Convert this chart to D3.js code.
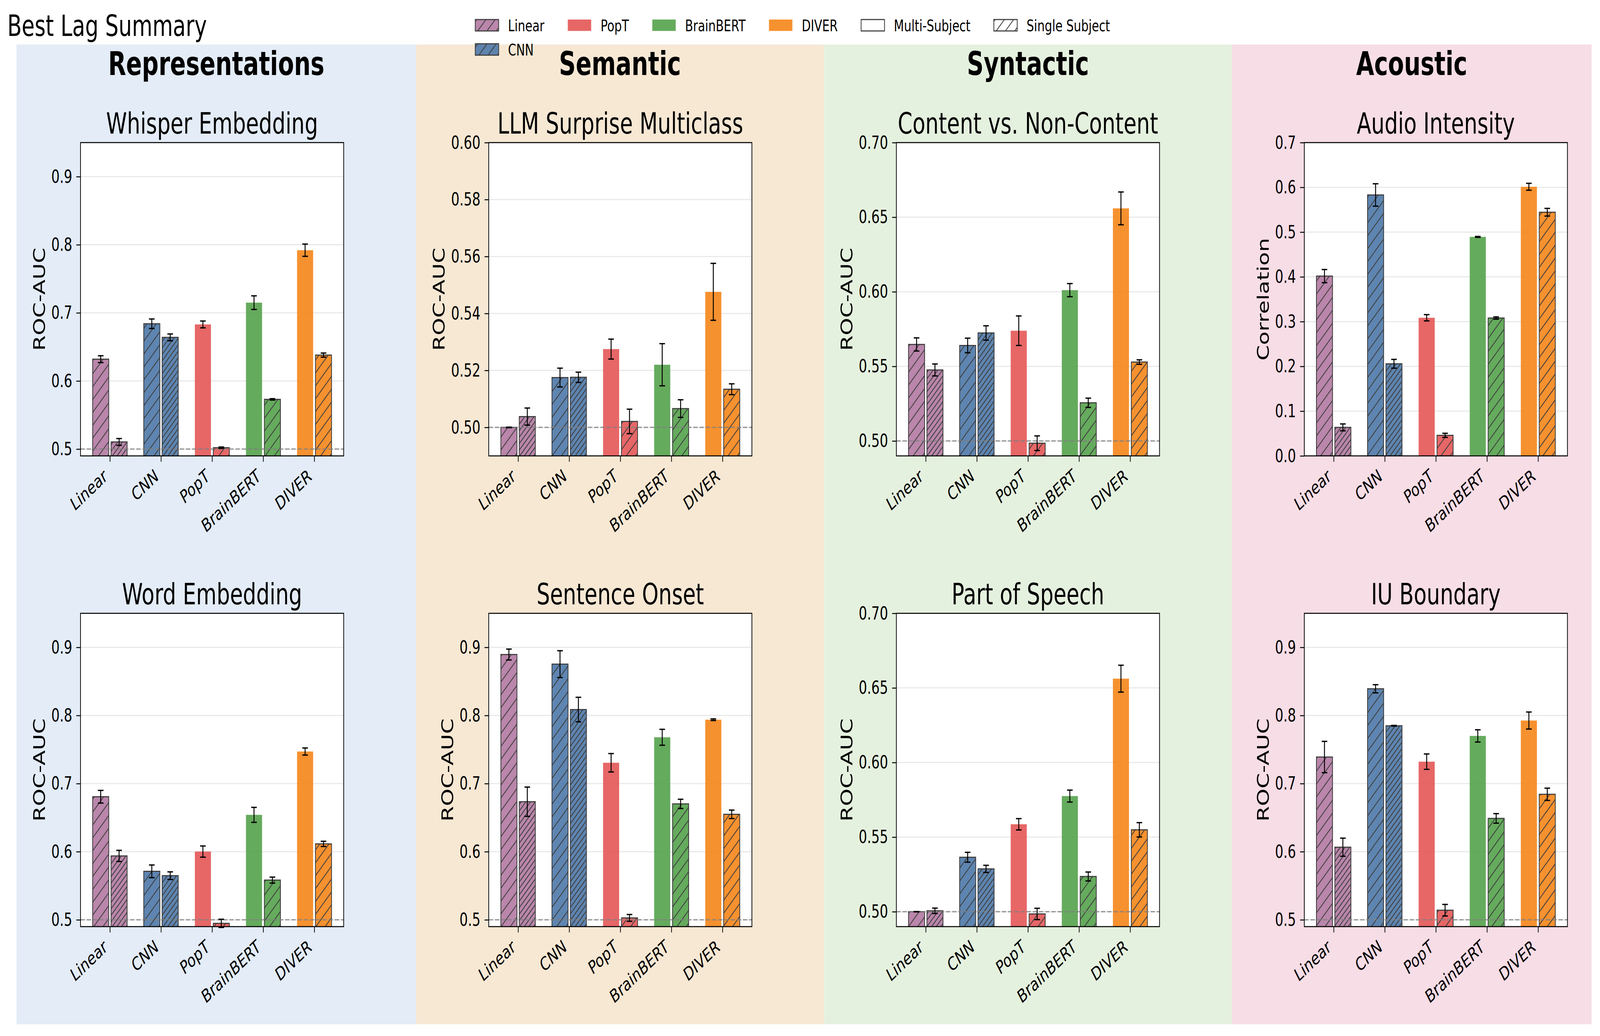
<!DOCTYPE html>
<html>
<head>
<meta charset="utf-8">
<script src="https://cdn.jsdelivr.net/npm/d3@7"></script>
<style>
    html, body { margin: 0; padding: 0; background: #fff; overflow: hidden; width: 100%; height: 100%; }
    #chart svg { display: block; width: 100vw; height: 100vh; }
    text { font-family: "DejaVu Sans", sans-serif; }
</style>
</head>
<body>
<div id="chart"></div>
<script>
// Models on the x axis of every panel
var models = ["Linear", "CNN", "PopT", "BrainBERT", "DIVER"];

// Column headers and panel titles (row-major: top row then bottom row)
var categories = ["Representations", "Semantic", "Syntactic", "Acoustic"];
var panelTitles = ["Whisper Embedding", "LLM Surprise Multiclass", "Content vs. Non-Content", "Audio Intensity",
                   "Word Embedding", "Sentence Onset", "Part of Speech", "IU Boundary"];
var yLabels = ["ROC-AUC", "ROC-AUC", "ROC-AUC", "Correlation",
               "ROC-AUC", "ROC-AUC", "ROC-AUC", "ROC-AUC"];

// Multi-subject means / errors, one row per panel, one value per model
var multiMean = [
    [0.632, 0.684, 0.683, 0.715, 0.792],
    [0.500, 0.5175, 0.5275, 0.522, 0.5476],
    [0.5647, 0.564, 0.5739, 0.6011, 0.6559],
    [0.4017, 0.583, 0.3086, 0.4893, 0.6013],
    [0.6807, 0.5712, 0.6002, 0.6541, 0.7471],
    [0.8895, 0.8754, 0.7306, 0.768, 0.7938],
    [0.500, 0.5365, 0.5586, 0.5775, 0.6562],
    [0.739, 0.8392, 0.7322, 0.770, 0.7926]
];
var multiErr = [
    [0.005, 0.007, 0.005, 0.010, 0.009],
    [0.0001, 0.0033, 0.0035, 0.0074, 0.010],
    [0.0044, 0.0049, 0.0099, 0.0044, 0.011],
    [0.0147, 0.025, 0.007, 0.001, 0.0077],
    [0.0093, 0.0093, 0.0082, 0.011, 0.0052],
    [0.008, 0.0197, 0.0135, 0.0117, 0.0012],
    [0.0001, 0.0033, 0.0038, 0.004, 0.009],
    [0.023, 0.006, 0.0113, 0.009, 0.0125]
];

// Single-subject means / errors
var singleMean = [
    [0.5105, 0.664, 0.502, 0.573, 0.638],
    [0.5038, 0.5176, 0.5021, 0.5066, 0.5134],
    [0.5476, 0.5724, 0.4985, 0.5256, 0.5529],
    [0.0637, 0.2058, 0.0459, 0.308, 0.5444],
    [0.5938, 0.5648, 0.4948, 0.5583, 0.6115],
    [0.6734, 0.8087, 0.5028, 0.6702, 0.6549],
    [0.5006, 0.5287, 0.4985, 0.5236, 0.5549],
    [0.6066, 0.7849, 0.5141, 0.6489, 0.6843]
];
var singleErr = [
    [0.005, 0.005, 0.001, 0.001, 0.003],
    [0.003, 0.0018, 0.0043, 0.0031, 0.0019],
    [0.004, 0.0048, 0.0049, 0.0031, 0.0015],
    [0.0077, 0.0098, 0.0046, 0.0025, 0.0086],
    [0.0082, 0.0056, 0.006, 0.0044, 0.0038],
    [0.0215, 0.018, 0.005, 0.0068, 0.0062],
    [0.0018, 0.0024, 0.0038, 0.003, 0.0048],
    [0.0133, 0.0005, 0.0085, 0.007, 0.009]
];

// Y axis ranges and tick labels per panel
var yDomains = [[0.49, 0.95], [0.49, 0.60], [0.49, 0.70], [0.0, 0.7],
                [0.49, 0.95], [0.49, 0.95], [0.49, 0.70], [0.49, 0.95]];
var yTicks = [
    [0.5, 0.6, 0.7, 0.8, 0.9],
    [0.50, 0.52, 0.54, 0.56, 0.58, 0.60],
    [0.50, 0.55, 0.60, 0.65, 0.70],
    [0.0, 0.1, 0.2, 0.3, 0.4, 0.5, 0.6, 0.7],
    [0.5, 0.6, 0.7, 0.8, 0.9],
    [0.5, 0.6, 0.7, 0.8, 0.9],
    [0.50, 0.55, 0.60, 0.65, 0.70],
    [0.5, 0.6, 0.7, 0.8, 0.9]
];
var yFormats = [".1f", ".2f", ".2f", ".1f", ".1f", ".1f", ".2f", ".1f"];
var chanceLevel = [0.5, 0.5, 0.5, null, 0.5, 0.5, 0.5, 0.5];

// Styles
var modelColors = ["#b279a2", "#4c78a8", "#e45756", "#54a24b", "#f58518"];
var bgColors = ["#e3ecf7", "#f7e8d4", "#e5f1df", "#f7dde6"];
var edgeColor = "#3d3d3d";

// Layout (pixels of the 5703 x 2652 figure)
var svgWidth = 5703, svgHeight = 2652;
var colLeft = [287, 1742, 3195, 4649];
var rowTop = [365, 1570];
var frameW = 938, frameH = 802;
var bgEdges = [59, 1483, 2937, 4391, 5673];
var bgTop = 114, bgBottom = 2622;
var barWidth = 0.315, barOffset = 0.18;

// The figure is drawn in 5703 x 2652 units and stretched to the window
var svg = d3.select("#chart").append("svg")
    .attr("viewBox", `0 0 ${svgWidth} ${svgHeight}`)
    .attr("preserveAspectRatio", "none");

svg.append("rect").attr("width", svgWidth).attr("height", svgHeight).attr("fill", "#fff");

// Hatch patterns
var defs = svg.append("defs");
function addHatch(id, s) {
    defs.append("pattern")
        .attr("id", id)
        .attr("patternUnits", "userSpaceOnUse")
        .attr("width", s)
        .attr("height", s)
        .append("path")
        .attr("d", `M0,${s} L${s},0 M${-s / 2},${s / 2} L${s / 2},${-s / 2} M${s / 2},${1.5 * s} L${1.5 * s},${s / 2}`)
        .attr("stroke", edgeColor)
        .attr("stroke-width", 2.6)
        .attr("fill", "none");
}
addHatch("hatchWide", 33);
addHatch("hatchDense", 16.5);

// Category backgrounds and headers
categories.forEach(function (cat, c) {
    svg.append("rect")
        .attr("x", bgEdges[c])
        .attr("y", bgTop)
        .attr("width", bgEdges[c + 1] - bgEdges[c])
        .attr("height", bgBottom - bgTop)
        .attr("fill", bgColors[c]);

    svg.append("text")
        .attr("x", (bgEdges[c] + bgEdges[c + 1]) / 2)
        .attr("y", 192)
        .attr("text-anchor", "middle")
        .attr("font-size", 83)
        .attr("font-weight", "bold")
        .text(cat);
});

// Figure title
svg.append("text")
    .attr("x", 26)
    .attr("y", 92)
    .attr("font-size", 75)
    .text("Best Lag Summary");

// Draws one bar, optionally hatched with a dark edge
function drawBar(g, x0, y0, w, h, color, hatch) {
    g.append("rect")
        .attr("x", x0).attr("y", y0).attr("width", w).attr("height", h)
        .attr("fill", color)
        .attr("fill-opacity", 0.9);
    if (hatch) {
        g.append("rect")
            .attr("x", x0).attr("y", y0).attr("width", w).attr("height", h)
            .attr("fill", `url(#${hatch})`)
            .attr("stroke", edgeColor)
            .attr("stroke-width", 2.8);
    }
}

function drawPanel(p) {
    var col = p % 4;
    var row = Math.floor(p / 4);
    var left = colLeft[col];
    var top = rowTop[row];
    var bottom = top + frameH;

    var xScale = d3.scaleLinear()
        .domain([-0.575, 4.575])
        .range([left, left + frameW]);
    var yScale = d3.scaleLinear()
        .domain(yDomains[p])
        .range([bottom, top]);

    var g = svg.append("g");

    // plot background
    g.append("rect")
        .attr("x", left).attr("y", top).attr("width", frameW).attr("height", frameH)
        .attr("fill", "#fff");

    var clipId = "clip" + p;
    defs.append("clipPath").attr("id", clipId)
        .append("rect")
        .attr("x", left).attr("y", top).attr("width", frameW).attr("height", frameH);

    var plot = g.append("g").attr("clip-path", `url(#${clipId})`);

    // horizontal grid
    plot.selectAll(".grid")
        .data(yTicks[p])
        .enter()
        .append("line")
        .attr("x1", left).attr("x2", left + frameW)
        .attr("y1", d => yScale(d)).attr("y2", d => yScale(d))
        .attr("stroke", "#e8e8e8")
        .attr("stroke-width", 2.8);

    var bw = xScale(barWidth) - xScale(0);
    // bars start at zero; the clip path cuts them at the axis bottom
    var y0 = yScale(0);

    models.forEach(function (m, i) {
        var color = modelColors[i];
        // multi-subject bar
        var xm = xScale(i - barOffset) - bw / 2;
        var ym = yScale(multiMean[p][i]);
        drawBar(plot, xm, ym, bw, y0 - ym, color, i < 2 ? "hatchWide" : null);
        // single-subject bar
        var xs = xScale(i + barOffset) - bw / 2;
        var ys = yScale(singleMean[p][i]);
        drawBar(plot, xs, ys, bw, y0 - ys, color, i < 2 ? "hatchDense" : "hatchWide");
    });

    // chance line
    if (chanceLevel[p] !== null) {
        plot.append("line")
            .attr("x1", left).attr("x2", left + frameW)
            .attr("y1", yScale(chanceLevel[p])).attr("y2", yScale(chanceLevel[p]))
            .attr("stroke", "#808080")
            .attr("stroke-opacity", 0.75)
            .attr("stroke-width", 3.5)
            .attr("stroke-dasharray", "15.4,6.7");
    }

    // error bars
    var errData = [];
    models.forEach(function (m, i) {
        errData.push({ x: i - barOffset, mean: multiMean[p][i], err: multiErr[p][i] });
        errData.push({ x: i + barOffset, mean: singleMean[p][i], err: singleErr[p][i] });
    });
    var eb = g.selectAll(".err" + p)
        .data(errData)
        .enter()
        .append("g");
    eb.append("line")
        .attr("x1", d => xScale(d.x)).attr("x2", d => xScale(d.x))
        .attr("y1", d => yScale(d.mean - d.err)).attr("y2", d => yScale(d.mean + d.err))
        .attr("stroke", "#000").attr("stroke-width", 3.3);
    eb.append("line")
        .attr("x1", d => xScale(d.x) - 10).attr("x2", d => xScale(d.x) + 10)
        .attr("y1", d => yScale(d.mean - d.err)).attr("y2", d => yScale(d.mean - d.err))
        .attr("stroke", "#000").attr("stroke-width", 3.3);
    eb.append("line")
        .attr("x1", d => xScale(d.x) - 10).attr("x2", d => xScale(d.x) + 10)
        .attr("y1", d => yScale(d.mean + d.err)).attr("y2", d => yScale(d.mean + d.err))
        .attr("stroke", "#000").attr("stroke-width", 3.3);

    // frame
    g.append("rect")
        .attr("x", left).attr("y", top).attr("width", frameW).attr("height", frameH)
        .attr("fill", "none")
        .attr("stroke", "#000")
        .attr("stroke-width", 2.6);

    // y axis
    var yAxisG = g.append("g")
        .attr("transform", `translate(${left},0)`)
        .call(d3.axisLeft(yScale)
            .tickValues(yTicks[p])
            .tickSize(15)
            .tickPadding(14.6)
            .tickFormat(d3.format(yFormats[p])));
    yAxisG.select(".domain").remove();
    yAxisG.attr("font-size", 47).attr("font-family", "DejaVu Sans");
    yAxisG.selectAll("line").attr("stroke", "#000").attr("stroke-width", 2.5);
    yAxisG.selectAll("text").attr("fill", "#000");

    // x axis
    var xAxisG = g.append("g")
        .attr("transform", `translate(0,${bottom})`)
        .call(d3.axisBottom(xScale)
            .tickValues(d3.range(models.length))
            .tickSize(15)
            .tickFormat(i => models[i]));
    xAxisG.select(".domain").remove();
    xAxisG.attr("font-size", 47).attr("font-family", "DejaVu Sans");
    xAxisG.selectAll("line").attr("stroke", "#000").attr("stroke-width", 2.5);
    xAxisG.selectAll("text")
        .attr("y", null)
        .attr("dy", null)
        .attr("fill", "#000")
        .attr("text-anchor", "end")
        .attr("transform", "translate(-6.5,58.8) rotate(-35)");

    // y axis label, placed left of the tick labels
    var minX = d3.min(yAxisG.selectAll("text").nodes(), n => n.getBBox().x) + left;
    svg.append("text")
        .attr("transform", `translate(${minX - 23},${(top + bottom) / 2}) rotate(-90)`)
        .attr("text-anchor", "middle")
        .attr("font-size", 57)
        .text(yLabels[p]);

    // panel title
    svg.append("text")
        .attr("x", left + frameW / 2)
        .attr("y", top - 23)
        .attr("text-anchor", "middle")
        .attr("font-size", 75)
        .text(panelTitles[p]);
}

d3.range(panelTitles.length).forEach(drawPanel);

// Legend
var legendItems = [
    { label: "Linear", fill: modelColors[0], hatch: "hatchWide", edge: true },
    { label: "CNN", fill: modelColors[1], hatch: "hatchWide", edge: true },
    { label: "PopT", fill: modelColors[2], hatch: null, edge: false },
    { label: "BrainBERT", fill: modelColors[3], hatch: null, edge: false },
    { label: "DIVER", fill: modelColors[4], hatch: null, edge: false },
    { label: "Multi-Subject", fill: "#fff", hatch: null, edge: true },
    { label: "Single Subject", fill: "#fff", hatch: "hatchWide", edge: true }
];
// column index / row index for each item (6 columns, first column holds two)
var legendCols = [0, 0, 1, 2, 3, 4, 5];
var legendRows = [0, 1, 0, 0, 0, 0, 0];

var legendFont = 41.7;
var handleW = 83.4, handleH = 29.2, handlePad = 33.4, colSpacing = 83.4;
var legendG = svg.append("g");

var colX = [1694];
var colWidths = [];
legendItems.forEach(function (item, k) {
    var t = legendG.append("text")
        .attr("font-size", legendFont)
        .text(item.label);
    item.node = t;
    var w = t.node().getComputedTextLength();
    var c = legendCols[k];
    colWidths[c] = Math.max(colWidths[c] || 0, w);
});
for (var c = 1; c < 6; c++) {
    colX[c] = colX[c - 1] + handleW + handlePad + colWidths[c - 1] + colSpacing;
}
legendItems.forEach(function (item, k) {
    var x = colX[legendCols[k]];
    var yTop = 50 + legendRows[k] * 62;
    legendG.append("rect")
        .attr("x", x).attr("y", yTop).attr("width", handleW).attr("height", handleH)
        .attr("fill", item.fill)
        .attr("fill-opacity", item.fill === "#fff" ? 1 : 0.9);
    if (item.hatch || item.edge) {
        legendG.append("rect")
            .attr("x", x).attr("y", yTop).attr("width", handleW).attr("height", handleH)
            .attr("fill", item.hatch ? `url(#${item.hatch})` : "none")
            .attr("stroke", edgeColor)
            .attr("stroke-width", 2.8);
    }
    item.node
        .attr("x", x + handleW + handlePad)
        .attr("y", yTop + handleH / 2 + 15);
});
</script>
</body>
</html>
